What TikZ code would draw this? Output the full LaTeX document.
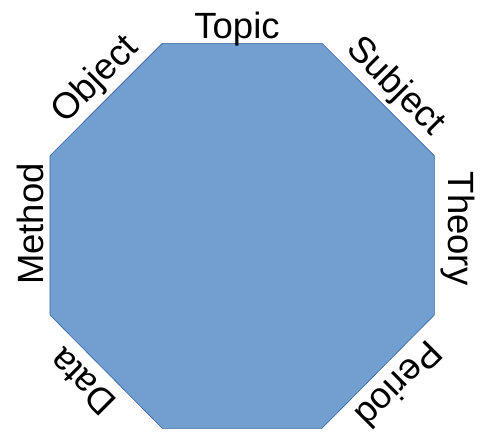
\documentclass[tikz,border=0pt]{standalone}
\usepackage{fontspec}
\setmainfont{Liberation Sans}
\definecolor{octfill}{HTML}{729FCF}
\definecolor{octline}{HTML}{3465A4}
\begin{document}
\begin{tikzpicture}[x=1pt,y=-1pt,every node/.style={font=\fontsize{36.5}{44}\selectfont,inner sep=0pt,anchor=base}]
\useasboundingbox (0,0) rectangle (481,431);
\draw[fill=octfill,draw=octline,line width=0.6pt] (162.3,43.3) -- (322,43.3) -- (434.3,155.7) -- (434.3,315) -- (322,428.3) -- (162.3,428.3) -- (50,315) -- (50,155.7) -- cycle;
\node (topic) at (237,38.3) {Topic};
\node[rotate=-45] (subject) at (388.4,93.6) {Subject};
\node[rotate=-90] (theory) at (448,228.5) {Theory};
\node[rotate=-135] (period) at (390,375.5) {Period};
\node[rotate=135] (data) at (90.9,373.1) {Data};
\node[rotate=90] (method) at (43.3,224) {Method};
\node[rotate=45] (object) at (102.8,86.8) {Object};
\end{tikzpicture}
\end{document}
